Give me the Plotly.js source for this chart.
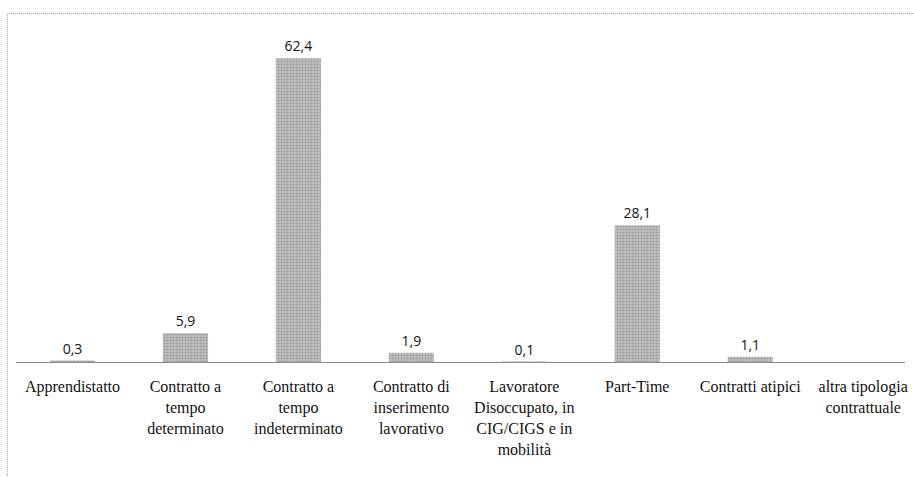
<!DOCTYPE html>
<html>
<head>
<meta charset="utf-8">
<script src="https://cdn.plot.ly/plotly-3.0.1.min.js"></script>
<style>
html,body{margin:0;padding:0;background:#fff;}
#wrap{position:relative;width:914px;height:477px;}
#chart{width:914px;height:477px;}
#frame{position:absolute;left:7px;top:13px;width:920px;height:480px;border-top:1px dotted #999;border-left:1px dotted #aaa;pointer-events:none;}
</style>
</head>
<body>
<div id="wrap"><div id="chart"></div><div id="frame"></div></div>
<script>
const categories = [
  "Apprendistatto",
  "Contratto a<br>tempo<br>determinato",
  "Contratto a<br>tempo<br>indeterminato",
  "Contratto di<br>inserimento<br>lavorativo",
  "Lavoratore<br>Disoccupato, in<br>CIG/CIGS e in<br>mobilità",
  "Part-Time",
  "Contratti atipici",
  "altra tipologia<br>contrattuale"
];
const values = [0.3, 5.9, 62.4, 1.9, 0.1, 28.1, 1.1, 0];
const valueLabels = values.map(v => v > 0 ? v.toFixed(1).replace('.', ',') : '');

const trace = {
  type: 'bar',
  x: categories,
  y: values,
  text: valueLabels,
  textposition: 'outside',
  cliponaxis: false,
  textfont: {family: "'Open Sans', 'Liberation Sans', sans-serif", size: 14, color: '#111'},
  width: 0.4,
  marker: {
    color: '#b3b3b3',
    line: {width: 0},
    pattern: {shape: '.', fgcolor: '#999999', bgcolor: '#c2c2c2', size: 3, solidity: 0.4}
  },
  hoverinfo: 'skip'
};

const layout = {
  width: 914,
  height: 477,
  margin: {l: 16, r: 9, t: 30, b: 115},
  paper_bgcolor: '#fff',
  plot_bgcolor: '#fff',
  showlegend: false,
  separators: ',.',
  xaxis: {
    type: 'category',
    range: [-0.5, 7.37],
    showline: true,
    linecolor: '#8a8a8a',
    linewidth: 1,
    ticks: '',
    showgrid: false,
    zeroline: false,
    tickangle: 0,
    ticklabelstandoff: 10,
    tickfont: {family: "'Liberation Serif', 'Times New Roman', serif", size: 16, color: '#111'}
  },
  yaxis: {
    range: [0, 68.2],
    showgrid: false,
    zeroline: false,
    showticklabels: false,
    showline: false,
    ticks: ''
  }
};

Plotly.newPlot('chart', [trace], layout, {displayModeBar: false, staticPlot: true});
</script>
</body>
</html>
